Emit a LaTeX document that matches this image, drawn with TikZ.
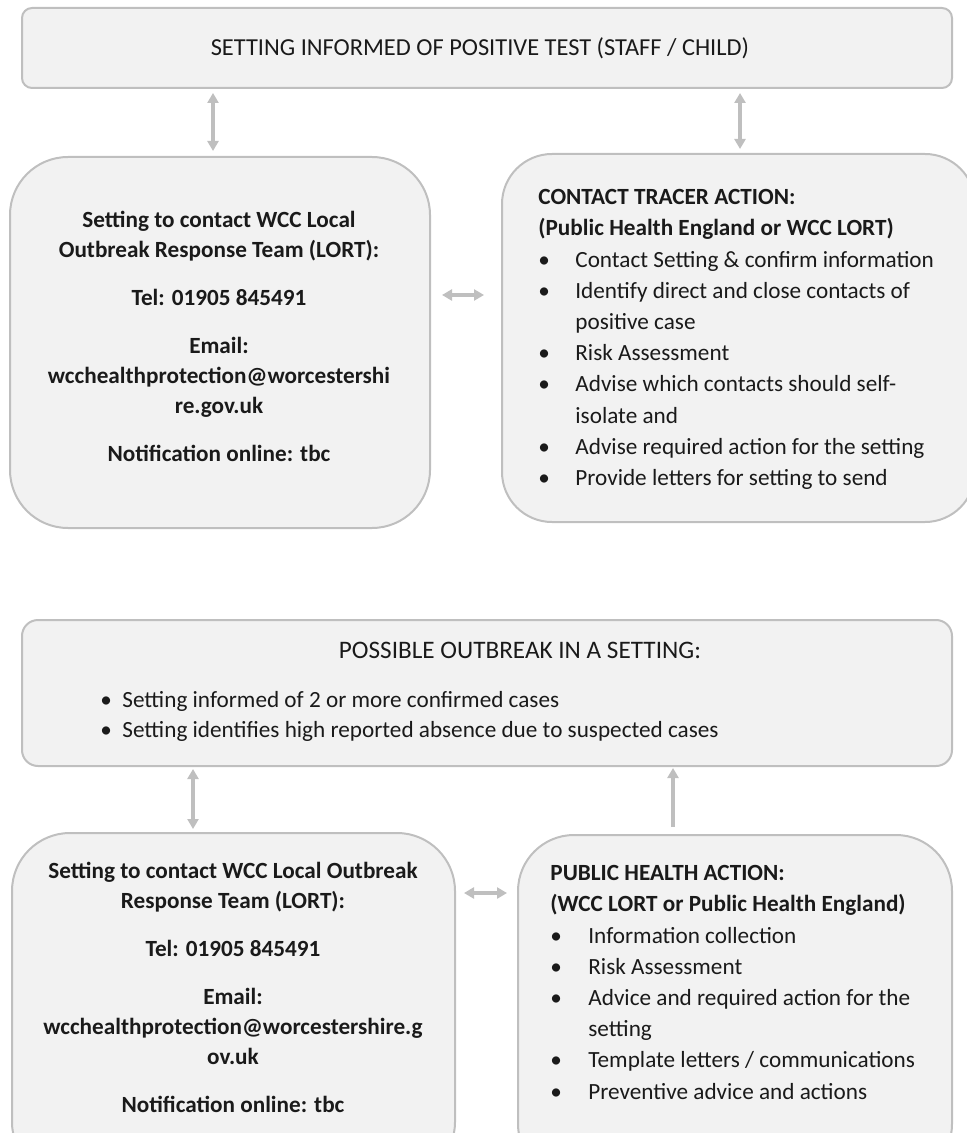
\documentclass[tikz,border=0pt]{standalone}
\usepackage{fontspec}
\setmainfont{Carlito}
\usetikzlibrary{arrows.meta,fit}
\definecolor{boxfill}{HTML}{F2F2F2}
\definecolor{boxline}{HTML}{BFBFBF}
\definecolor{arrowgrey}{HTML}{BFBFBF}
\definecolor{inktext}{HTML}{1A1A1A}
\newcommand{\bitem}[1]{\makebox[18.5pt][l]{\textbullet}#1}
\newcommand{\bcont}[1]{\hspace*{18.5pt}#1}

\begin{document}
\begin{tikzpicture}[x=0.5pt,y=-0.5pt,
	panel/.style={draw=boxline,line width=1pt,fill=boxfill,inner sep=0pt},
	bodytext/.style={text=inktext,font=\fontsize{11.6}{15}\selectfont,inner sep=0pt},
	listtext/.style={bodytext,align=left,anchor=north west,font=\fontsize{11.6}{15.6}\selectfont},
	tip/.tip={Triangle[width=5.5pt,length=5pt]},
	link/.style={draw=arrowgrey,line width=1.6pt,tip-tip},
	uplink/.style={draw=arrowgrey,line width=1.6pt,-tip}]
	\useasboundingbox (0,0) rectangle (967,1133);
	\clip (0,0) rectangle (967,1133);
	% positive test part
	\node[panel,rounded corners=5pt,fit={(22,8)(952,88)}] (positive) {};
	\node[panel,rounded corners=29pt,fit={(10,157)(430,528)}] (lortA) {};
	\node[panel,rounded corners=25pt,fit={(502,154)(975,522)}] (tracer) {};
	\node[bodytext,font=\fontsize{12.2}{15}\selectfont] (positivetext) at (480,48) {SETTING INFORMED OF POSITIVE TEST (STAFF / CHILD)};
	\node[bodytext,align=center,font=\fontsize{11.6}{15}\selectfont\bfseries] (lortAtext) at (219,336) {Setting to contact WCC Local\\
		Outbreak Response Team (LORT):\\[9pt]
		Tel: 01905 845491\\[9pt]
		Email:\\
		wcchealthprotection@worcestershi\\
		re.gov.uk\\[9pt]
		Notification online: tbc};
	\node[listtext] (tracertext) at (538,189) {\textbf{CONTACT TRACER ACTION:}\\
		\textbf{(Public Health England or WCC LORT)}\\
		\bitem{Contact Setting \& confirm information}\\
		\bitem{Identify direct and close contacts of}\\
		\bcont{positive case}\\
		\bitem{Risk Assessment}\\
		\bitem{Advise which contacts should self-}\\
		\bcont{isolate and}\\
		\bitem{Advise required action for the setting}\\
		\bitem{Provide letters for setting to send}};
	\draw[link,shorten <=2.5pt,shorten >=2pt] (lortA.north -| 213,0) -- (positive.south -| 213,0);
	\draw[link,shorten <=2pt,shorten >=2pt] (tracer.north -| 740,0) -- (positive.south -| 740,0);
	\draw[link,shorten <=5.5pt,shorten >=8.5pt] (lortA.east |- 0,295) -- (tracer.west |- 0,295);
	% possible outbreak part
	\node[panel,rounded corners=8pt,fit={(22,620)(952,766)}] (outbreak) {};
	\node[panel,rounded corners=29pt,fit={(12,833)(455,1180)}] (lortB) {};
	\node[panel,rounded corners=28pt,fit={(518,835)(952,1180)}] (health) {};
	\node[bodytext,font=\fontsize{12.6}{15}\selectfont] (outbreakhead) at (520,650) {POSSIBLE OUTBREAK IN A SETTING:};
	\node[bodytext,align=left,anchor=north west] (outbreaktext) at (100,691) {\makebox[11pt][l]{\textbullet}Setting informed of 2 or more confirmed cases\\
		\makebox[11pt][l]{\textbullet}Setting identifies high reported absence due to suspected cases};
	\node[bodytext,align=center,font=\fontsize{11.6}{15}\selectfont\bfseries] (lortBtext) at (233,987) {Setting to contact WCC Local Outbreak\\
		Response Team (LORT):\\[9pt]
		Tel: 01905 845491\\[9pt]
		Email:\\
		wcchealthprotection@worcestershire.g\\
		ov.uk\\[9pt]
		Notification online: tbc};
	\node[listtext] (healthtext) at (550,865) {\textbf{PUBLIC HEALTH ACTION:}\\
		\textbf{(WCC LORT or Public Health England)}\\
		\makebox[19pt][l]{\textbullet}Information collection\\
		\makebox[19pt][l]{\textbullet}Risk Assessment\\
		\makebox[19pt][l]{\textbullet}Advice and required action for the\\
		\hspace*{19pt}setting\\
		\makebox[19pt][l]{\textbullet}Template letters / communications\\
		\makebox[19pt][l]{\textbullet}Preventive advice and actions};
	\draw[link,shorten <=1.5pt,shorten >=1pt] (lortB.north -| 193,0) -- (outbreak.south -| 193,0);
	\draw[uplink,shorten <=3.5pt,shorten >=0.5pt] (health.north -| 673,0) -- (outbreak.south -| 673,0);
	\draw[link,shorten <=4pt,shorten >=5pt] (lortB.east |- 0,893) -- (health.west |- 0,893);
\end{tikzpicture}
\end{document}
